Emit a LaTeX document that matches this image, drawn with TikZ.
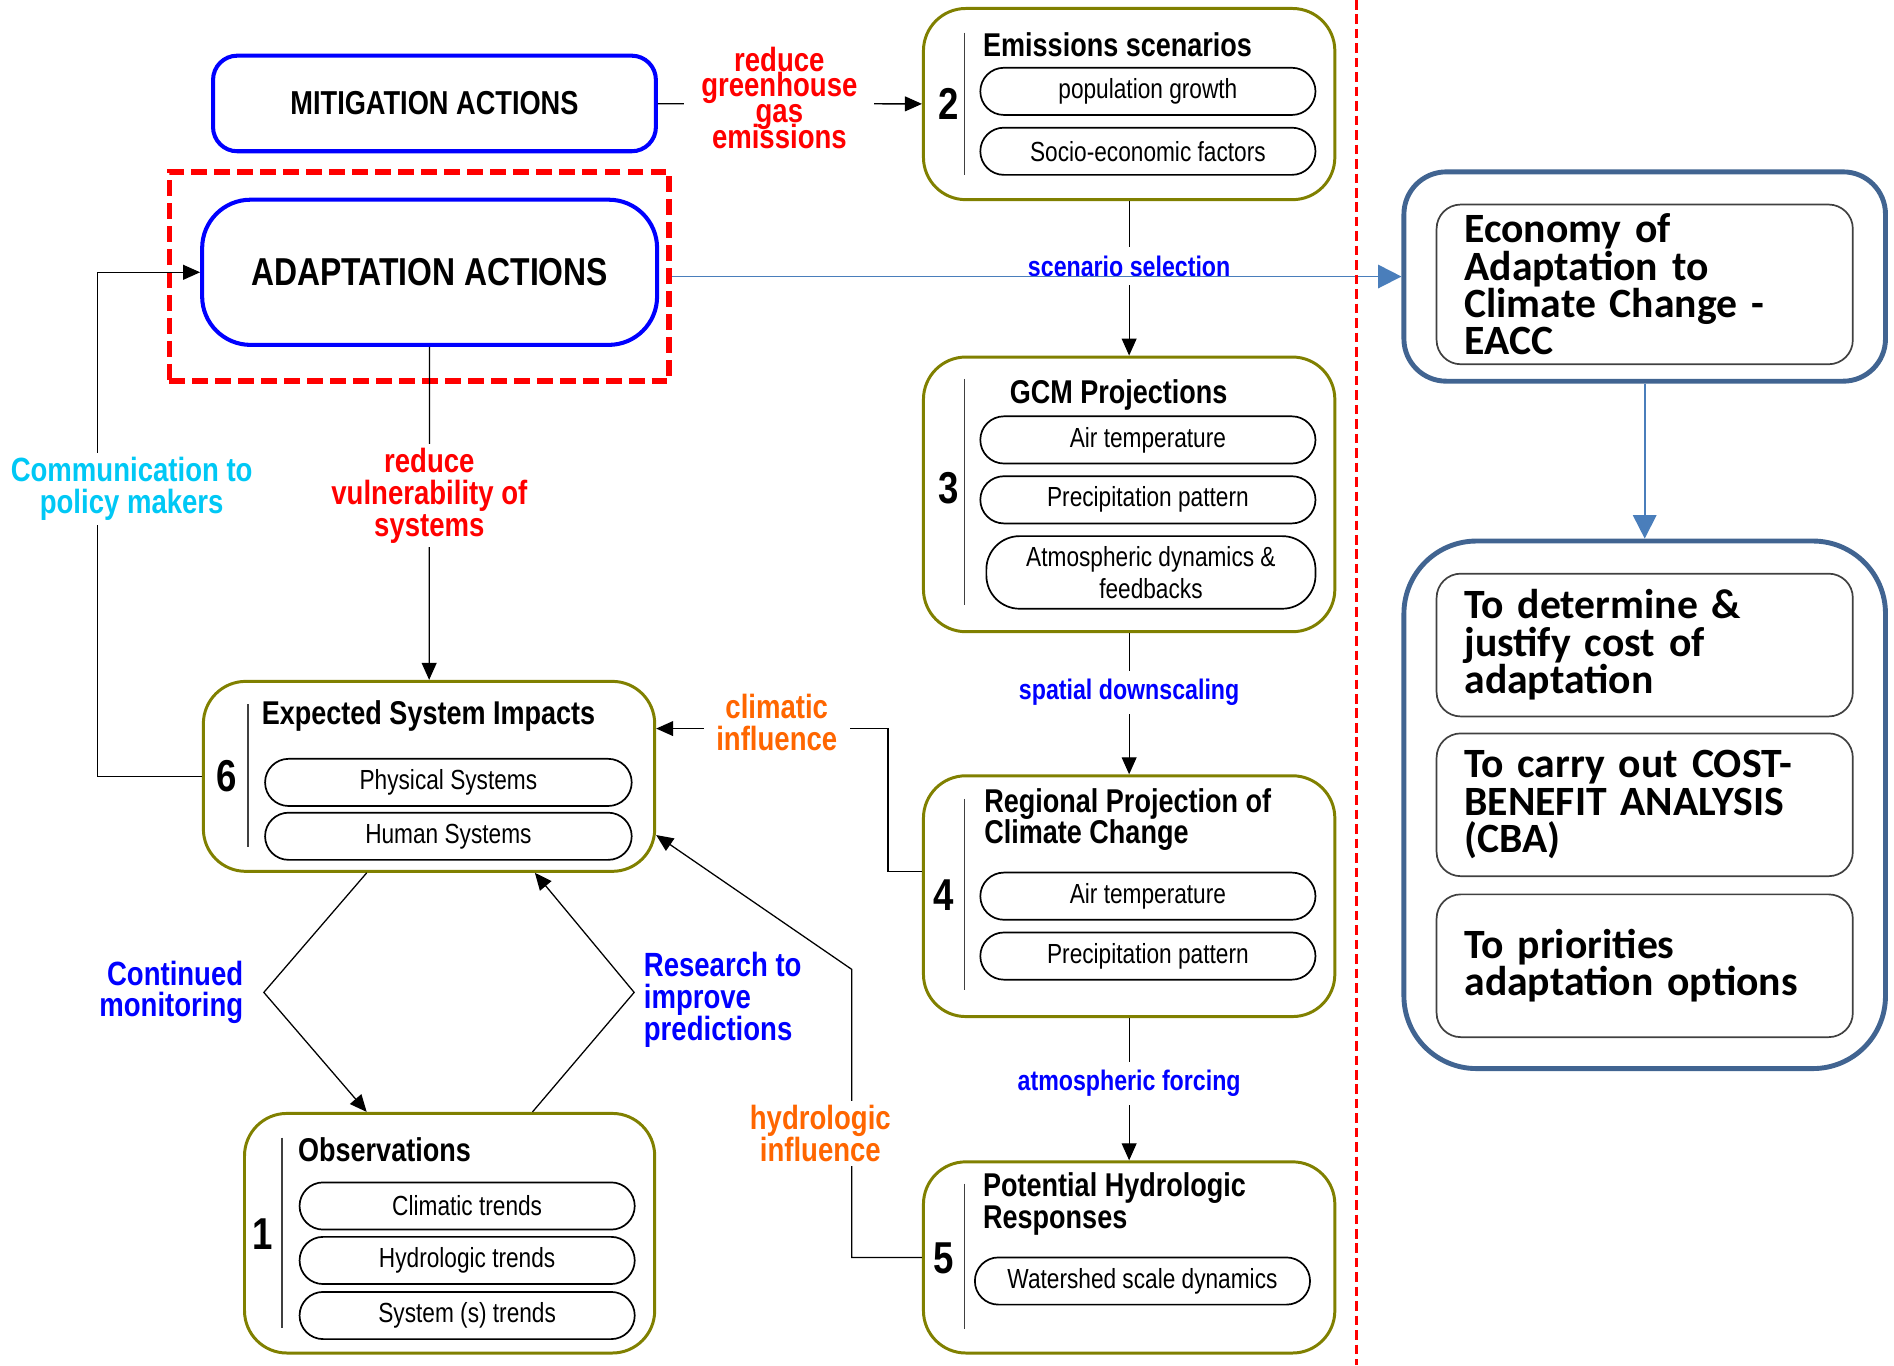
\documentclass[tikz,border=0pt]{standalone}
\usepackage{fontspec}
\setmainfont{Liberation Sans}
\newfontfamily\narrow{Liberation Sans}[FakeStretch=0.82]
\newfontfamily\calib{Carlito}
\usetikzlibrary{arrows.meta}
\definecolor{olivebox}{RGB}{128,128,0}
\definecolor{steelframe}{RGB}{65,100,145}
\definecolor{arrowblue}{RGB}{74,126,187}
\definecolor{commcyan}{RGB}{0,200,245}
\definecolor{orangelab}{RGB}{255,102,0}
\newcommand\tightlines{\lineskiplimit=-100pt\relax}

\begin{document}
\begin{tikzpicture}[x=0.02cm, y=-0.02cm,
	bluebox/.style={draw=blue, line width=1.9pt, font=\narrow\bfseries\fontsize{15.6}{18}\selectfont},
	outerbox/.style={draw=olivebox, line width=1.4pt, rounded corners=0.7cm, minimum width=6.8cm},
	pill/.style={draw, line width=0.8pt, rounded corners=0.39cm, minimum width=5.54cm, minimum height=0.78cm, inner sep=0pt, font=\narrow\fontsize{13}{14.8}\selectfont},
	boxtitle/.style={anchor=west, align=left, inner sep=0pt, font=\narrow\bfseries\fontsize{15.5}{14.8}\selectfont},
	boxnum/.style={inner sep=0pt, font=\narrow\bfseries\fontsize{21}{21}\selectfont},
	divider/.style={line width=0.6pt, black!75},
	flowlab/.style={fill=white, align=center, inner sep=2pt, font=\narrow\bfseries\fontsize{15.8}{15}\selectfont\tightlines},
	steplab/.style={fill=white, text=blue, inner xsep=1pt, inner ysep=4pt, font=\narrow\bfseries\fontsize{13.3}{15}\selectfont},
	conn/.style={line width=0.6pt, -{Triangle[length=8pt,width=7pt]}},
	bluelink/.style={line width=0.9pt, arrowblue, -{Triangle[length=11pt,width=11pt]}},
	goalout/.style={draw=steelframe, line width=2.3pt, minimum width=7.96cm},
	goalin/.style={draw=black!75, line width=0.8pt, rounded corners=0.4cm, minimum width=6.88cm, text width=5.96cm, inner xsep=0.46cm, align=left, font=\calib\bfseries\fontsize{19.6}{17.6}\selectfont\tightlines}
]
	\useasboundingbox (0,0) rectangle (1565,1128);

	\node[bluebox, rounded corners=0.4cm, minimum width=7.32cm, minimum height=1.58cm] (mitig) at (359,85.5) {MITIGATION ACTIONS};
	\node[draw=red, line width=2.8pt, dash pattern=on 7.4pt off 3.4pt, minimum width=8.26cm, minimum height=3.46cm] (focus) at (346.5,228.5) {};
	\node[bluebox, rounded corners=0.8cm, minimum width=7.52cm, minimum height=2.4cm, font=\narrow\bfseries\fontsize{18.3}{20}\selectfont] (adapt) at (355,225) {ADAPTATION ACTIONS};

	\node[outerbox, minimum height=3.16cm] (box2) at (933,86) {};
	\node[boxnum] (n2) at (784,86) {2};
	\draw[divider] (797,27) -- (797,145);
	\node[boxtitle] (t2) at (812,37) {Emissions scenarios};
	\node[pill] (pop) at (948.5,75.5) {population growth};
	\node[pill] (socio) at (948.5,125) {Socio-economic factors};

	\node[outerbox, minimum height=4.54cm] (box3) at (933,408.5) {};
	\node[boxnum] (n3) at (784,403) {3};
	\draw[divider] (797,313) -- (797,500);
	\node[boxtitle] (t3) at (834,326) {GCM Projections};
	\node[pill] (gcmair) at (948.5,363.5) {Air temperature};
	\node[pill] (gcmrain) at (948.5,413) {Precipitation pattern};
	\node[pill, minimum width=5.44cm, minimum height=1.2cm, rounded corners=0.55cm, align=center] (gcmdyn) at (951,473) {Atmospheric dynamics \&\\feedbacks};

	\node[outerbox, minimum height=3.98cm] (box4) at (933,740.5) {};
	\node[boxnum] (n4) at (780,740) {4};
	\draw[divider] (797,660) -- (797,818);
	\node[boxtitle] (t4) at (813,677) {Regional Projection of\\Climate Change};
	\node[pill] (regair) at (948.5,740.5) {Air temperature};
	\node[pill] (regrain) at (948.5,790) {Precipitation pattern};

	\node[outerbox, minimum height=3.16cm] (box5) at (933,1039) {};
	\node[boxnum] (n5) at (780,1040) {5};
	\draw[divider] (797,978) -- (797,1098);
	\node[boxtitle] (t5) at (812,995) {Potential Hydrologic\\Responses};
	\node[pill] (shed) at (944,1058.5) {Watershed scale dynamics};

	\node[outerbox, minimum width=7.46cm, minimum height=3.14cm] (box6) at (354.5,641.5) {};
	\node[boxnum] (n6) at (187,641) {6};
	\draw[divider] (205,582) -- (205,700);
	\node[boxtitle] (t6) at (216,592) {Expected System Impacts};
	\node[pill, minimum width=6.06cm] (phys) at (370.5,646.5) {Physical Systems};
	\node[pill, minimum width=6.06cm] (human) at (370.5,691) {Human Systems};

	\node[outerbox, minimum width=6.78cm, minimum height=3.96cm] (box1) at (371.5,1019) {};
	\node[boxnum] (n1) at (217,1020) {1};
	\draw[divider] (233,940) -- (233,1097);
	\node[boxtitle] (t1) at (246,950) {Observations};
	\node[pill] (climtr) at (386,996.5) {Climatic trends};
	\node[pill] (hydtr) at (386,1041.5) {Hydrologic trends};
	\node[pill] (systr) at (386,1087) {System (s) trends};

	\draw[conn] (mitig) -- node[flowlab, text=red, pos=0.46, yshift=0.1cm, inner xsep=8pt, font=\narrow\bfseries\fontsize{15.8}{12}\selectfont\tightlines] {reduce\\greenhouse\\gas\\emissions} (box2);
	\draw[conn] (adapt) -- node[flowlab, text=red, pos=0.446] {reduce\\vulnerability of\\systems} (box6);
	\draw[conn] (box2) -- node[steplab, pos=0.42] {scenario selection} (box3);
	\draw[conn] (box3) -- node[steplab, pos=0.42] {spatial downscaling} (box4);
	\draw[conn] (box4) -- node[steplab, pos=0.46] {atmospheric forcing} (box5);
	\draw[conn] (box6.west) -- ++(-86,0) |- node[flowlab, text=commcyan, pos=0.285, xshift=0.56cm] {Communication to\\policy makers} (adapt);
	\draw[conn] ([yshift=0.41cm]box4.west) -- ++(-28,0) |- node[flowlab, text=orangelab, pos=0.74, yshift=0.1cm, inner xsep=6pt] {climatic\\influence} ([yshift=0.79cm]box6.east);
	\draw[conn] (box5.west) -- ++(-58,0) -- node[flowlab, text=orangelab, pos=0.43, xshift=-0.52cm] {hydrologic\\influence} ++(0,-238) -- ([yshift=-0.97cm]box6.east);
	\draw[conn] ([xshift=-1.03cm]box6.south) -- (218,820) node[flowlab, text=blue, anchor=east, align=right, xshift=-0.26cm] {Continued\\monitoring} -- ([xshift=-1.37cm]box1.north);
	\draw[conn] ([xshift=1.37cm]box1.north) -- (524,820) node[flowlab, text=blue, anchor=west, align=left, xshift=0.08cm, yshift=-0.12cm] {Research to\\improve\\predictions} -- ([xshift=1.75cm]box6.south);

	\node[goalout, rounded corners=0.7cm, minimum height=3.46cm] (eacc) at (1359,228.5) {};
	\node[goalin, minimum height=2.64cm] (eacctxt) at (1359,235) {Economy of\\Adaptation to\\Climate Change -\\EACC};
	\node[goalout, rounded corners=1.2cm, minimum height=8.72cm] (goals) at (1359,665) {};
	\node[goalin, minimum height=2.36cm] (cost) at (1359,533) {To determine \&\\justify cost of\\adaptation};
	\node[goalin, minimum height=2.36cm] (cba) at (1359,665) {To carry out COST-\\BENEFIT ANALYSIS\\(CBA)};
	\node[goalin, minimum height=2.36cm] (prio) at (1359,798) {To priorities\\adaptation options};

	\draw[bluelink] (focus) -- (eacc);
	\draw[bluelink] (eacc) -- (goals);
	\draw[red, line width=1.4pt, dash pattern=on 4.5pt off 2.3pt] (1121,0) -- (1121,1128);
\end{tikzpicture}
\end{document}
